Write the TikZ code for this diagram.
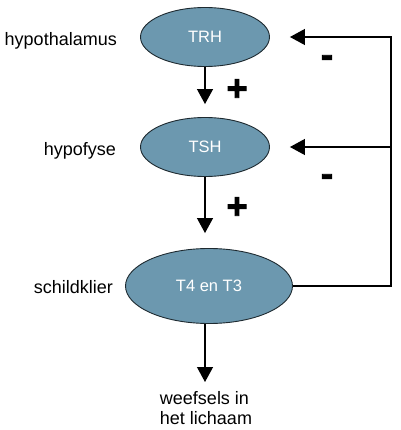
\documentclass[tikz,border=0pt]{standalone}
\usepackage{fontspec}
\setmainfont{Liberation Sans}
\newfontfamily\signfont[FakeBold=2.5]{Liberation Sans Bold}
\usetikzlibrary{arrows.meta,shapes.geometric}
\definecolor{ellfill}{HTML}{6C98AF}
\definecolor{ellline}{HTML}{1E2A30}
\begin{document}
\begin{tikzpicture}[x=1pt,y=-1pt,
  gland/.style={ellipse, draw=ellline, line width=0.9pt, fill=ellfill, text=white,
    font=\fontsize{16.5}{19}\selectfont, inner sep=0pt},
  organ/.style={font=\fontsize{18}{20}\selectfont, anchor=east, inner sep=0pt},
  conn/.style={line width=1.2pt, -{Triangle[length=15pt,width=16pt]}},
  sign/.style={font=\signfont\fontsize{36}{36}\selectfont, inner sep=0pt}]
\useasboundingbox (0,0) rectangle (400,430);
\node[gland, minimum width=129pt, minimum height=59pt] (trh) at (205,37) {TRH};
\node[gland, minimum width=129pt, minimum height=59pt] (tsh) at (205,147) {TSH};
\node[gland, minimum width=167pt, minimum height=75pt] (t4) at (209,286) {T4 en T3};
\node[organ] (hth) at (117,41) {hypothalamus};
\node[organ] (hyp) at (116,151) {hypofyse};
\node[organ] (sch) at (113,287) {schildklier};
\node[font=\fontsize{18}{20}\selectfont, align=left, anchor=north, inner sep=0pt] (tissue) at (206,391) {weefsels in\\het lichaam};
\draw[conn] (trh.south) -- ([yshift=13pt]tsh.north);
\draw[conn] (tsh.south) -- ([yshift=15pt]tsh.south |- t4.north);
\draw[conn] (tsh.south |- t4.south) -- ([yshift=9pt]tsh.south |- tissue.north);
\coordinate (fbx) at (391,0);
\draw[conn] (t4.east) -| (fbx |- trh.center) -- ([xshift=20pt]trh.east);
\draw[conn] (fbx |- tsh.center) -- ([xshift=20pt]tsh.east);
\node[sign] (p1) at (237,90) {+};
\node[sign] (p2) at (237,208) {+};
\node[sign] (m1) at (327,61) {-};
\node[sign] (m2) at (327,180) {-};
\end{tikzpicture}
\end{document}
